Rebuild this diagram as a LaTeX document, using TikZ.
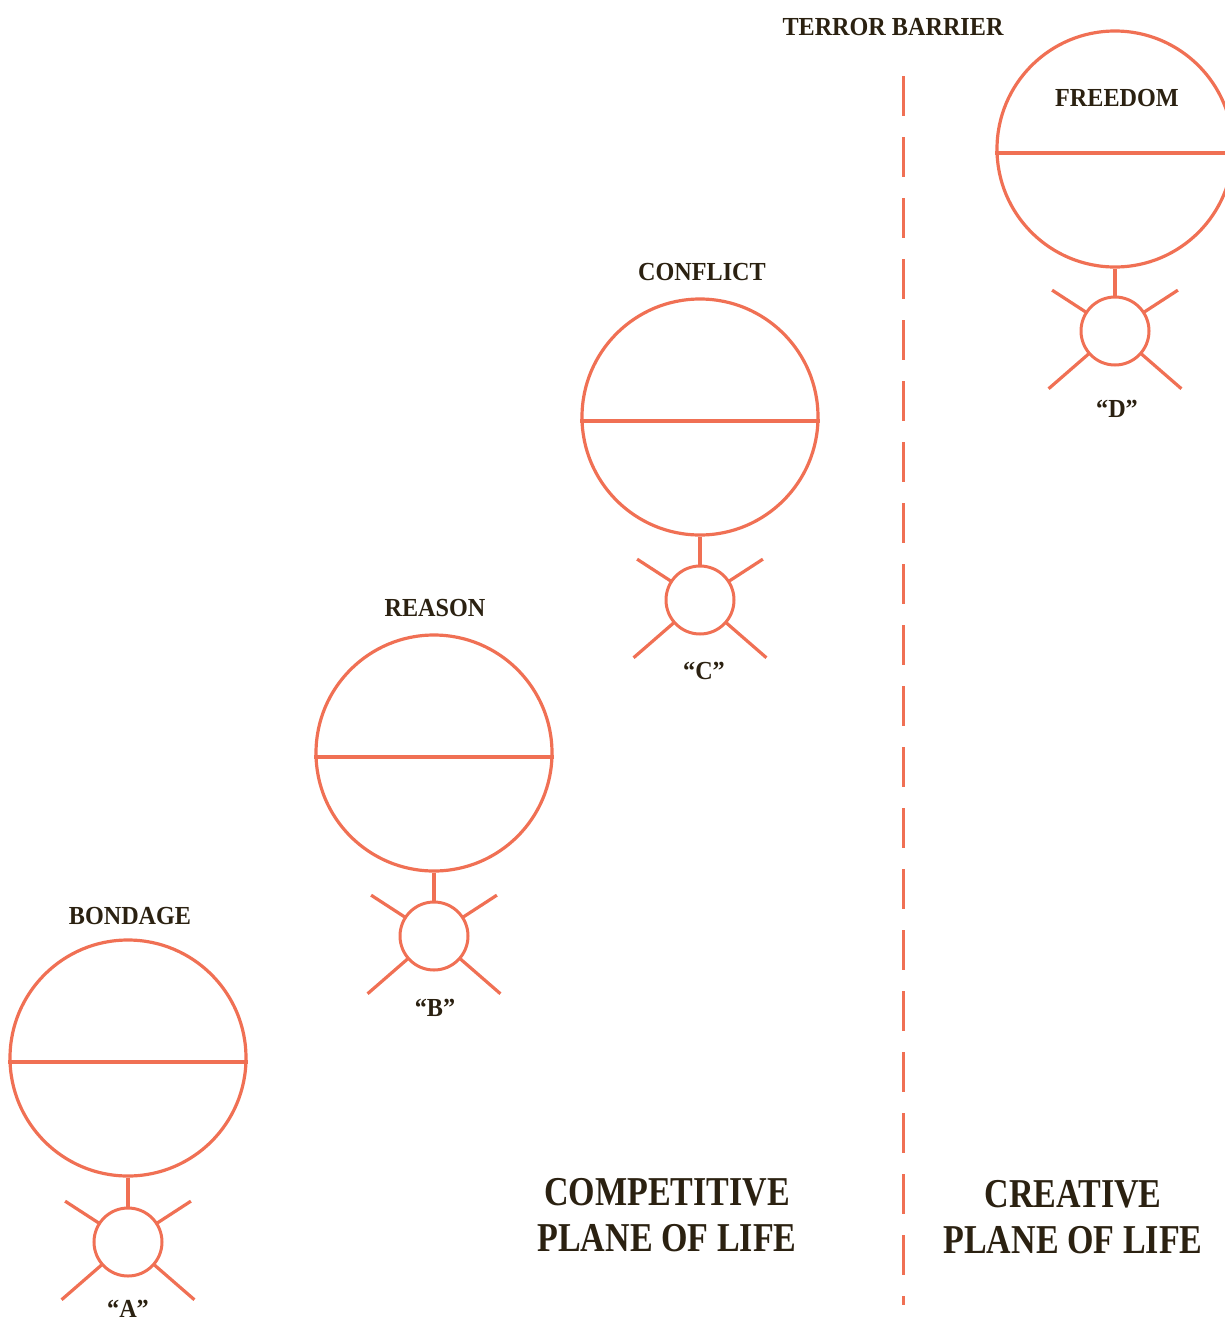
\documentclass[tikz,border=0pt]{standalone}
\usepackage{fontspec}
\setmainfont{Liberation Serif}
\newfontfamily\lblfont{Liberation Serif}[FakeStretch=0.93]
\newfontfamily\bigfont{Liberation Serif}[FakeStretch=0.83]
\definecolor{coral}{RGB}{240,112,84}
\definecolor{ink}{RGB}{43,33,17}
\tikzset{
  bigc/.style={circle, draw=coral, line width=3.2pt, minimum size=236pt, inner sep=0pt},
  smallc/.style={circle, draw=coral, line width=3pt, minimum size=68pt, inner sep=0pt},
  ln/.style={draw=coral, line width=3.2pt},
  lbl/.style={text=ink, inner sep=0pt, font=\lblfont\bfseries\fontsize{26}{30}\selectfont},
  biglbl/.style={text=ink, inner sep=0pt, align=center, font=\bigfont\bfseries\fontsize{41}{46}\selectfont},
}
\begin{document}
\begin{tikzpicture}[x=1pt,y=-1pt]
\useasboundingbox (0,0) rectangle (1225,1323);
\clip (0,0) rectangle (1225,1323);
% figures
\foreach \n/\bx/\by/\sy/\lx/\ly/\tx/\ty/\tt in {
  A/128/1058/1242/128/1309/130/916/BONDAGE,
  B/434/753/936/435/1008/435/608/REASON,
  C/700/417/600/704/671/702/272/CONFLICT,
  D/1115/149/331/1117/409/1117/98/FREEDOM}{
  \node[bigc] (big\n) at (\bx,\by) {};
  \node[smallc] (sm\n) at (\bx,\sy) {};
  \draw[ln] ([yshift=-4pt]big\n.west) -- ([yshift=-4pt]big\n.east);
  \draw[ln] (big\n.south) -- (sm\n.north);
  \draw[ln] ([shift={(147:35pt)}]sm\n.center) -- ([shift={(147:75pt)}]sm\n.center);
  \draw[ln] ([shift={(33:35pt)}]sm\n.center) -- ([shift={(33:75pt)}]sm\n.center);
  \draw[ln] ([shift={(221:35pt)}]sm\n.center) -- ([shift={(221:88pt)}]sm\n.center);
  \draw[ln] ([shift={(319:35pt)}]sm\n.center) -- ([shift={(319:88pt)}]sm\n.center);
  \node[lbl] (q\n) at (\lx,\ly) {“\n”};
  \node[lbl] (t\n) at (\tx,\ty) {\tt};
}
% terror barrier
\node[lbl] (terror) at (893,27) {TERROR BARRIER};
\coordinate (bartop) at (903,76);
\coordinate (barbot) at (903,1305);
\draw[coral, line width=3pt, dash pattern=on 40pt off 21pt] (bartop) -- (barbot);
% planes
\node[biglbl] (comp) at (667,1215) {COMPETITIVE\\PLANE OF LIFE};
\node[biglbl] (crea) at (1073,1217) {CREATIVE\\PLANE OF LIFE};
\end{tikzpicture}
\end{document}
